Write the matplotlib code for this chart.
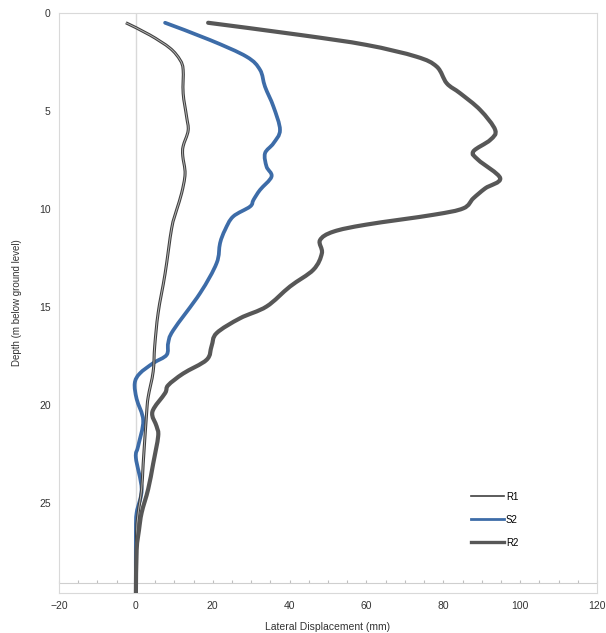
import matplotlib
matplotlib.use("Agg")
import matplotlib.pyplot as plt
import matplotlib.patheffects as pe
from matplotlib.path import Path
from matplotlib.patches import PathPatch
from matplotlib.lines import Line2D
import numpy as np

plt.rcParams['font.family'] = ['Liberation Sans', 'DejaVu Sans']

# inclinometer readings: lateral displacement (mm) against depth (m)
r1_disp = [-2.6, 3.6, 8.9, 11.5, 12.3, 12.3, 13.2, 13.6, 12.3, 12.2, 12.8, 11.9, 10.6,
           9.3, 7.6, 5.8, 4.9, 4.5, 3.2, 2.8, 1.9, 1.5, 0.6, 0.2, 0.0]
r1_depth = [0.5, 1.12, 1.8, 2.4, 2.9, 4.1, 5.3, 6.0, 6.8, 7.3, 8.2, 9.2, 10.05,
            11.0, 13.3, 15.3, 17.0, 18.3, 19.6, 20.4, 23.0, 24.3, 25.5, 26.5, 29.6]

s2_disp = [7.6, 19.3, 28.8, 32.3, 33.6, 35.8, 37.5, 35.8, 33.6, 34.0, 35.3, 32.3, 30.6,
           29.7, 25.3, 23.2, 21.9, 21.0, 16.7, 9.7, 8.4, 8.0, 4.5, 1.0, -0.3,
           0.2, 1.9, 0.6, 0.0, 1.5, 0.2, 0.0, 0.0]
s2_depth = [0.5, 1.38, 2.23, 2.9, 3.76, 4.78, 5.97, 6.65, 7.16, 7.84, 8.35, 9.03, 9.54,
            9.88, 10.39, 11.07, 11.75, 12.77, 14.3, 16.2, 16.85, 17.45, 17.87, 18.4, 18.9,
            19.7, 20.8, 22.1, 22.7, 24.3, 25.5, 26.5, 29.6]

r2_disp = [18.8, 42.7, 60.0, 73.0, 78.3, 80.9, 84.4, 89.6, 93.5, 92.2, 87.8, 89.1, 94.8,
           90.9, 87.8, 85.2, 77.4, 60.0, 51.4, 47.9, 48.4, 46.2, 40.1, 34.0, 27.1, 21.0,
           19.7, 18.4, 12.3, 8.4, 7.6, 4.3, 5.4, 5.8, 4.5, 3.2, 1.5, 0.8, 0.2, 0.0]
r2_depth = [0.5, 1.12, 1.63, 2.23, 2.74, 3.59, 4.1, 4.95, 5.97, 6.48, 7.07, 7.5, 8.43,
            8.95, 9.46, 9.97, 10.3, 10.8, 11.16, 11.6, 12.26, 13.1, 13.96, 14.98, 15.58, 16.34,
            17.0, 17.7, 18.4, 19.0, 19.4, 20.35, 21.1, 21.6, 23.0, 24.3, 25.5, 26.4, 27.4, 29.6]

grid_grey = '#d9d9d9'
r1_col = '#3f3f3f'
s2_col = '#3d6ca8'
r2_col = '#575757'


def smooth_path(xs, ys):
    # Catmull-Rom through the readings, written as cubic Bezier segments
    p = np.column_stack([xs, ys]).astype(float)
    p_ext = np.vstack([p[0], p, p[-1]])
    verts = [p[0]]
    codes = [Path.MOVETO]
    for i in range(1, len(p_ext) - 2):
        a, b, c, d = p_ext[i - 1], p_ext[i], p_ext[i + 1], p_ext[i + 2]
        verts += [b + (c - a) / 6, c - (d - b) / 6, c]
        codes += [Path.CURVE4] * 3
    return Path(verts, codes)


fig = plt.figure(figsize=(6.06, 6.33), dpi=100)
ax = fig.add_axes([0.0974, 0.0632, 0.8878, 0.9163])

ax.axvline(0, color=grid_grey, lw=1, zorder=0)

ax.add_patch(PathPatch(smooth_path(r1_disp, r1_depth), fill=False, edgecolor=r1_col,
                       lw=2.2, zorder=3,
                       path_effects=[pe.Stroke(linewidth=2.2, foreground=r1_col),
                                     pe.Stroke(linewidth=0.7, foreground='#b4b4b4')]))
ax.add_patch(PathPatch(smooth_path(s2_disp, s2_depth), fill=False, edgecolor=s2_col,
                       lw=2.7, zorder=2, capstyle='round', joinstyle='round'))
ax.add_patch(PathPatch(smooth_path(r2_disp, r2_depth), fill=False, edgecolor=r2_col,
                       lw=3.0, zorder=4, capstyle='round', joinstyle='round'))

ax.set_xlim(-20, 120)
ax.set_ylim(29.6, 0)
ax.set_xticks(np.arange(-20, 121, 20))
ax.set_yticks(np.arange(0, 26, 5))
ax.tick_params(length=0, labelsize=7.5, colors='#333333', pad=6)
for s in ax.spines.values():
    s.set_color(grid_grey)

# horizontal axis line crossing just above the bottom edge
sec = ax.secondary_xaxis((29.6 - 29.1) / 29.6)
sec.set_xticks(np.arange(-20, 121, 5))
sec.tick_params(direction='in', length=2.5, color='#bfbfbf', labelbottom=False)
sec.spines['bottom'].set_color('#cfcfcf')

ax.set_xlabel('Lateral Displacement (mm)', fontsize=7.5, color='#333333', labelpad=8)
ax.set_ylabel('Depth (m below ground level)', fontsize=7, color='#333333', labelpad=12)

handles = [Line2D([], [], color=r1_col, lw=1.2),
           Line2D([], [], color=s2_col, lw=2.0),
           Line2D([], [], color=r2_col, lw=2.4)]
ax.legend(handles, ['R1', 'S2', 'R2'], loc='upper left', bbox_to_anchor=(0.75, 0.19),
          frameon=False, fontsize=7, handlelength=3.4, handletextpad=0.15,
          labelspacing=1.35)

fig.savefig('out.png', dpi=100)
